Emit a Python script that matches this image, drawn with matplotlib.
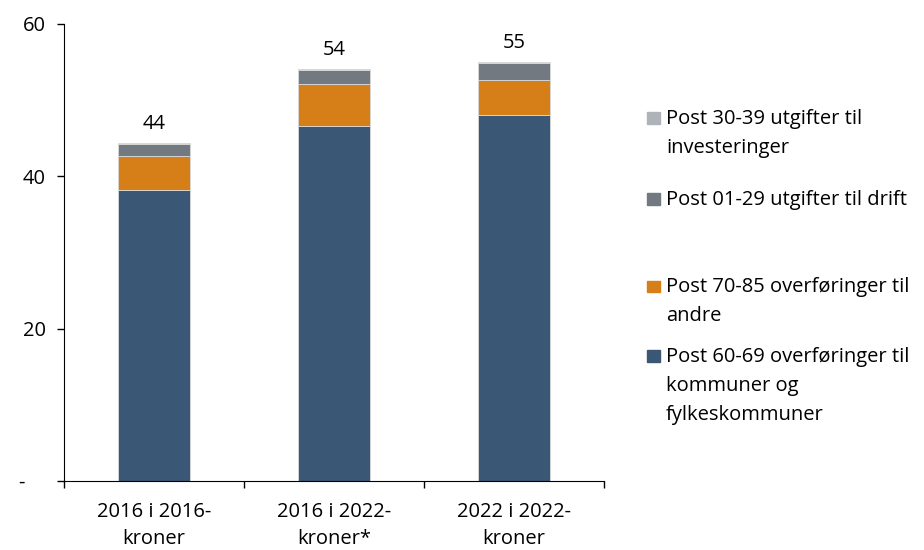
import matplotlib.pyplot as plt
from matplotlib.patches import Rectangle
import numpy as np

plt.rcParams["font.family"] = ["Open Sans", "DejaVu Sans"]

categories = ["2016 i 2016-\nkroner", "2016 i 2022-\nkroner*", "2022 i 2022-\nkroner"]
post_60_69 = [38.2, 46.6, 48.0]
post_70_85 = [4.5, 5.5, 4.6]
post_01_29 = [1.5, 1.8, 2.3]
post_30_39 = [0.2, 0.2, 0.1]
totals = ["44", "54", "55"]

series_names = [
    "Post 60-69 overføringer til\nkommuner og\nfylkeskommuner",
    "Post 70-85 overføringer til\nandre",
    "Post 01-29 utgifter til drift",
    "Post 30-39 utgifter til\ninvesteringer",
]
colors = ["#3a5775", "#d67e17", "#727981", "#adb3b9"]

fs = 14.5

fig = plt.figure(figsize=(9.24, 5.5), dpi=100)
ax = fig.add_axes([0.0693, 0.1255, 0.5844, 0.8309])

x = np.arange(len(categories))
bottom = np.zeros(len(categories))
for vals, col in zip([post_60_69, post_70_85, post_01_29, post_30_39], colors):
    ax.bar(x, vals, 0.4, bottom=bottom, color=col, edgecolor="#d9d9d9", linewidth=0.6)
    bottom += np.array(vals)

for xi, top, lab in zip(x, bottom, totals):
    ax.annotate(lab, (xi, top), xytext=(0, 10), textcoords="offset points",
                ha="center", va="baseline", fontsize=fs)

ax.set_xlim(-0.5, 2.5)
ax.set_ylim(0, 60)
ax.set_yticks([0, 20, 40, 60])
ax.set_yticklabels(["-    ", "20", "40", "60"], fontsize=fs)
ax.set_xticks([-0.5, 0.5, 1.5, 2.5], minor=False)
ax.set_xticklabels([])
ax.set_xticks(x, minor=True)
ax.set_xticklabels(categories, minor=True, fontsize=fs, linespacing=1.45)
ax.tick_params(axis="x", which="minor", length=0, pad=15)
ax.tick_params(axis="x", which="major", length=5, direction="out", width=1)
ax.tick_params(axis="y", length=5, direction="out", width=1, pad=8)
ax.spines[["top", "right"]].set_visible(False)

# legend, drawn by hand (uneven spacing as in the original)
leg_base = [0.3418, 0.469, 0.6273, 0.7745]  # baseline of first line, figure fraction
for name, col, y in zip(series_names, colors, leg_base):
    fig.patches.append(Rectangle((0.700, y), 0.0138, 0.021, color=col,
                                 transform=fig.transFigure))
    lines = name.split("\n")
    for i, line in enumerate(lines):
        fig.text(0.7208, y - i * 0.0525, line, fontsize=fs, va="baseline", ha="left")

fig.savefig("out.png", dpi=100)
